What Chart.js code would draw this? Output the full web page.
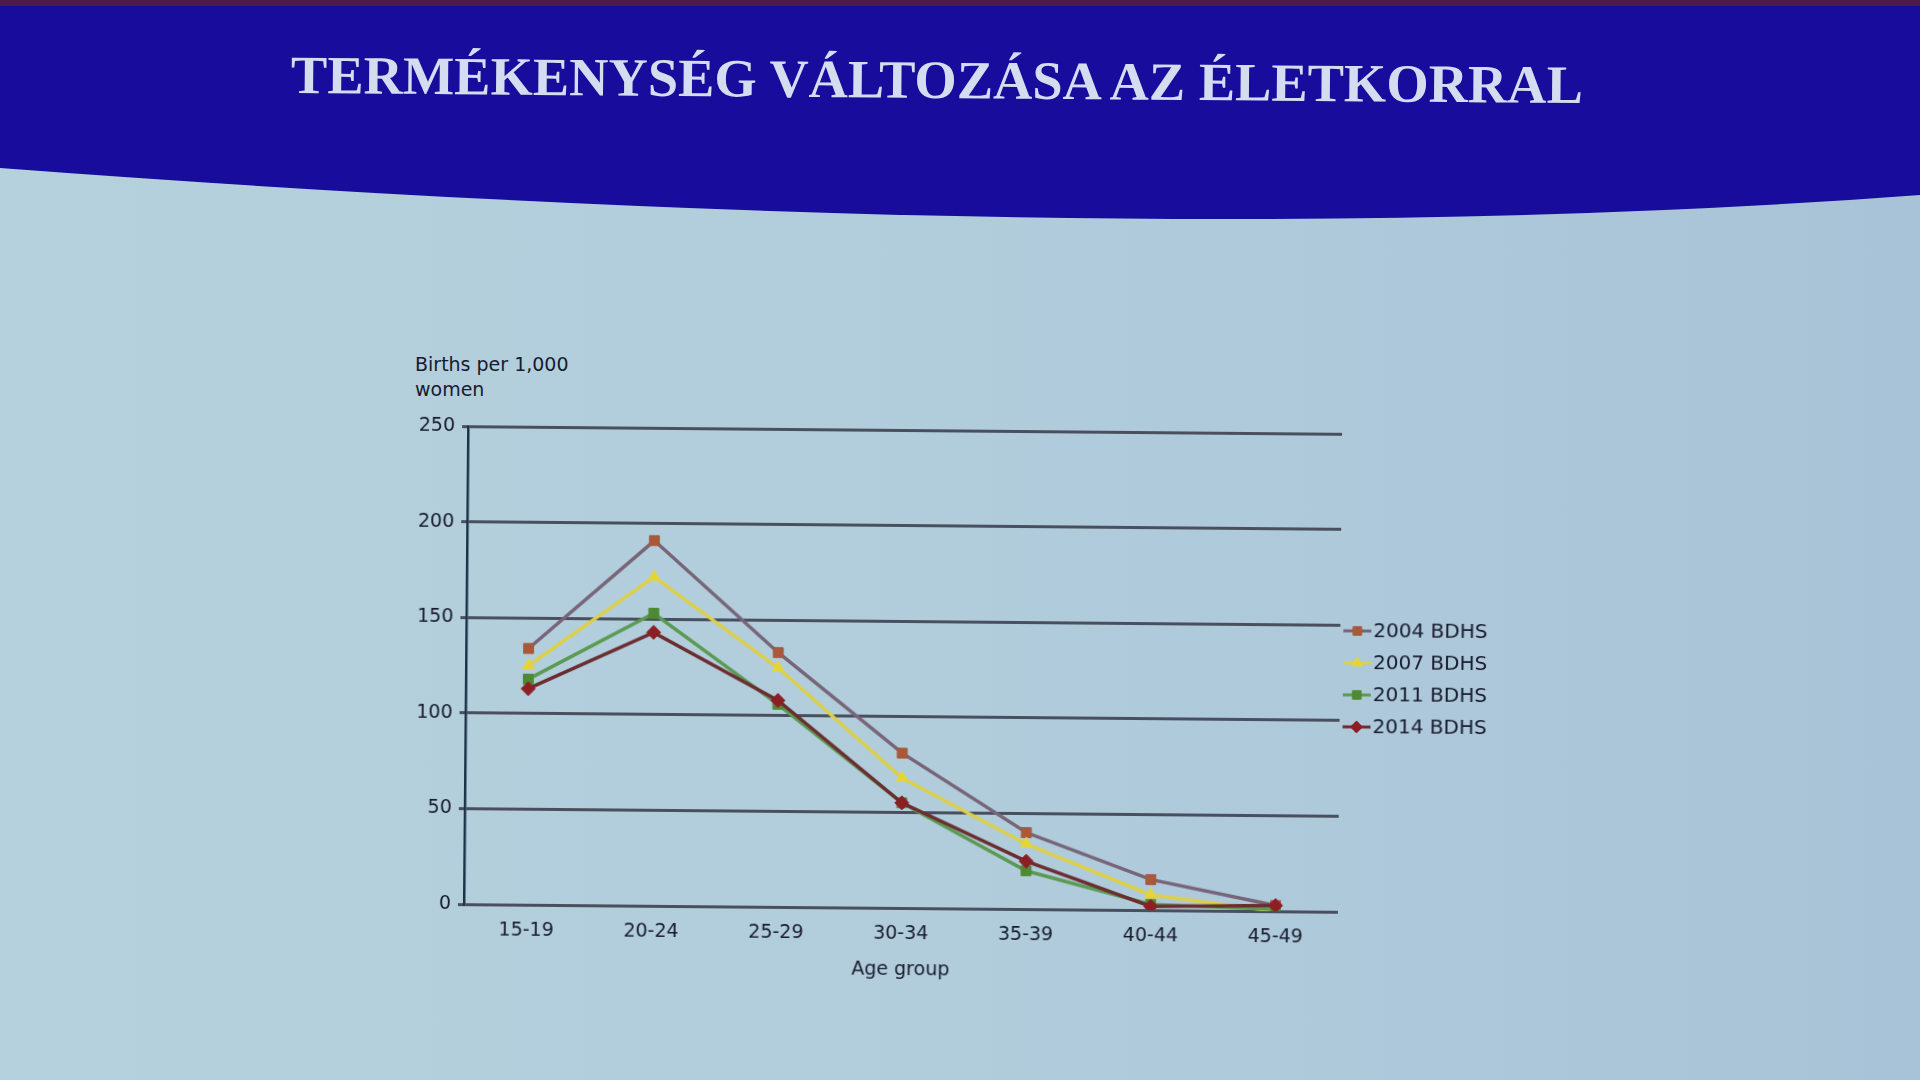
<!DOCTYPE html>
<html>
<head>
<meta charset="utf-8">
<script src="https://cdn.jsdelivr.net/npm/chart.js@4.4.1/dist/chart.umd.min.js"></script>
<style>
  html, body { margin: 0; padding: 0; }
  body {
    width: 1920px; height: 1080px; overflow: hidden; position: relative;
    background: linear-gradient(90deg, #b5d1dd 0%, #b1cddc 50%, #a8c3d7 100%);
    font-family: "DejaVu Sans", sans-serif;
  }
  #banner { position: absolute; left: 0; top: 0; }
  #title {
    position: absolute; left: 291px; top: 44px; margin: 0;
    font-family: "Liberation Serif", serif; font-weight: bold; font-size: 54px;
    color: #d4ddf0; white-space: nowrap; letter-spacing: 0;
    transform-origin: 0 50%;
  }
  #ytitle {
    position: absolute; left: 415px; top: 352px;
    font-size: 19px; line-height: 25px; color: #171b2e;
  }
  #wrap { position: absolute; left: 380px; top: 340px; width: 1220px; height: 680px;
    transform-origin: 523px 328px; transform: rotate(0.5deg); }
</style>
</head>
<body>
<svg id="banner" width="1920" height="260">
  <rect x="0" y="0" width="1920" height="6" fill="#4a1c48"/>
  <path d="M0,6 H1920 V195 Q1140,254 0,168 Z" fill="#170c9c"/>
</svg>
<h1 id="title">TERMÉKENYSÉG VÁLTOZÁSA AZ ÉLETKORRAL</h1>
<div id="ytitle">Births per 1,000<br>women</div>
<div id="wrap"><canvas id="myChart" width="1220" height="680"></canvas></div>
<script>
// title width in the slide
var t = document.getElementById('title');
t.style.transform = 'scaleX(' + (1292 / t.offsetWidth) + ') rotate(0.45deg)';

const ageGroups = ['15-19', '20-24', '25-29', '30-34', '35-39', '40-44', '45-49'];
const yTicks = [0, 50, 100, 150, 200, 250];
const seriesNames = ['2004 BDHS', '2007 BDHS', '2011 BDHS', '2014 BDHS'];
const bdhs2004 = [134, 191, 133, 81, 40, 16, 3];
const bdhs2007 = [125, 172, 125, 68, 34, 8, 0];
const bdhs2011 = [118, 153, 106, 55, 20, 3, 1];
const bdhs2014 = [113, 143, 108, 55, 25, 2, 3];

const lineColors = ['#776478', '#dccf4a', '#5b9a52', '#6b2e30'];
const markColors = ['#a9583a', '#e4d43c', '#4e8a34', '#8c1f24'];
const markStyles = ['rect', 'triangle', 'rect', 'rectRot'];

const data = {
  labels: ageGroups,
  datasets: [bdhs2004, bdhs2007, bdhs2011, bdhs2014].map((vals, i) => ({
    label: seriesNames[i],
    data: vals,
    borderColor: lineColors[i],
    borderWidth: 3.5,
    pointStyle: markStyles[i],
    pointRadius: 7,
    pointBackgroundColor: markColors[i],
    pointBorderColor: markColors[i],
    pointBorderWidth: 1,
    tension: 0,
    fill: false
  })).reverse()
};

// legend drawn as line + marker + label, right of the plot
const sideLegend = {
  id: 'sideLegend',
  afterDraw(chart) {
    const ctx = chart.ctx;
    const area = chart.chartArea;
    const x0 = area.right + 17;
    let y = area.top + 197;
    const items = chart.data.datasets.slice().reverse();
    ctx.save();
    items.forEach(ds => {
      ctx.strokeStyle = ds.borderColor;
      ctx.lineWidth = 3;
      ctx.beginPath();
      ctx.moveTo(x0 - 14, y);
      ctx.lineTo(x0 + 14, y);
      ctx.stroke();
      ctx.fillStyle = ds.pointBackgroundColor;
      ctx.strokeStyle = ds.pointBorderColor;
      ctx.lineWidth = 1;
      Chart.helpers.drawPoint(ctx, { pointStyle: ds.pointStyle, radius: 6, borderWidth: 1 }, x0, y);
      ctx.fillStyle = '#171b2e';
      ctx.font = '20px "DejaVu Sans"';
      ctx.textBaseline = 'middle';
      ctx.textAlign = 'left';
      ctx.fillText(ds.label, x0 + 16, y + 1);
      y += 32;
    });
    ctx.restore();
  }
};

var ctx = document.getElementById('myChart');

var myChart = new Chart(ctx, {
  type: 'line',
  data: data,
  plugins: [sideLegend],
  options: {
    responsive: false,
    animation: false,
    layout: { padding: { top: 90, right: 260, bottom: 39, left: 0 } },
    plugins: {
      legend: { display: false },
      tooltip: { enabled: false }
    },
    scales: {
      x: {
        offset: true,
        grid: { display: false, drawTicks: false },
        border: { display: false },
        ticks: { color: '#171b2e', font: { size: 19, family: 'DejaVu Sans' }, padding: 15, maxRotation: 0 },
        title: { display: true, text: 'Age group', color: '#171b2e',
                 font: { size: 19, family: 'DejaVu Sans' }, padding: { top: 9, bottom: 0 } },
        afterFit(s) { s.height = 73; }
      },
      y: {
        min: 0, max: 250,
        afterBuildTicks(s) { s.ticks = yTicks.map(v => ({ value: v })); },
        grid: { color: '#494f5e', lineWidth: 3, tickLength: 6, drawTicks: true },
        border: { display: true, color: '#1b3347', width: 2.5 },
        ticks: { color: '#171b2e', font: { size: 19, family: 'DejaVu Sans' }, padding: 7 },
        afterFit(s) { s.width = 86; }
      }
    }
  }
});
</script>
</body>
</html>
